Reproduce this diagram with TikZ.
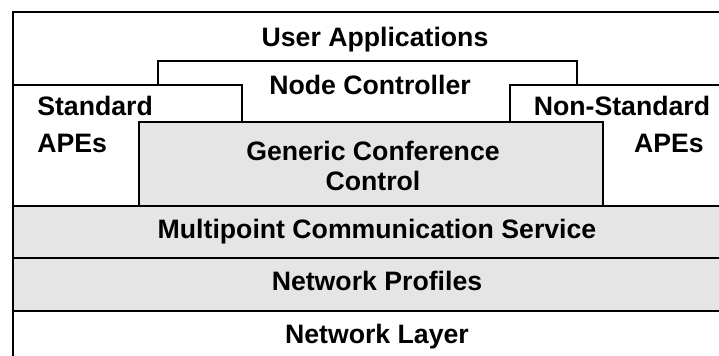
\documentclass[tikz,border=0pt]{standalone}
\usepackage{fontspec}
\setmainfont{Liberation Sans}
\definecolor{layergray}{RGB}{229,229,229}
\begin{document}
\begin{tikzpicture}[x=0.75pt,y=-0.75pt,
  frame/.style={draw=black,line width=1.5pt},
  lbl/.style={font=\fontsize{20}{24}\selectfont\bfseries,inner sep=0pt,anchor=base}]
\useasboundingbox (0,0) rectangle (719,355);
\clip (0,0) rectangle (719,355);
\fill[white] (0,0) rectangle (719,355);
% outer user applications box
\draw[frame,fill=white] (13,12) rectangle (740,380);
% node controller
\draw[frame,fill=white] (158,61) rectangle (577,122);
% standard APEs
\draw[frame,fill=white] (13,85) rectangle (242,206);
% non-standard APEs
\draw[frame,fill=white] (510,85) rectangle (740,206);
% generic conference control
\draw[frame,fill=layergray] (139,122) rectangle (603,206);
% MCS
\draw[frame,fill=layergray] (13,206) rectangle (740,258);
% network profiles
\draw[frame,fill=layergray] (13,258) rectangle (740,311);
% network layer
\draw[frame,fill=white] (13,311) rectangle (740,380);
% labels
\node[lbl] (ua) at (375,46) {User Applications};
\node[lbl] (nc) at (370,94) {Node Controller};
\node[lbl,anchor=base west] (std) at (37,115) {Standard};
\node[lbl,anchor=base west] (apel) at (37,152) {APEs};
\node[lbl] (nstd) at (622,115) {Non-Standard};
\node[lbl] (aper) at (669,152) {APEs};
\node[lbl] (gcc1) at (373,160) {Generic Conference};
\node[lbl] (gcc2) at (373,190) {Control};
\node[lbl] (mcs) at (377,238) {Multipoint Communication Service};
\node[lbl] (np) at (377,290) {Network Profiles};
\node[lbl] (nl) at (377,343) {Network Layer};
\end{tikzpicture}
\end{document}
